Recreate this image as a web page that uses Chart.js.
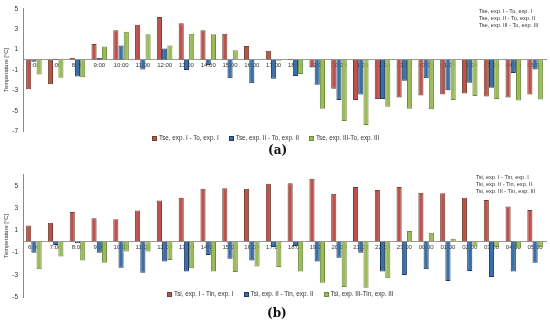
<!DOCTYPE html>
<html>
<head>
<meta charset="utf-8">
<script src="https://cdn.jsdelivr.net/npm/chart.js@4"></script>
<style>
  html, body { margin: 0; padding: 0; background: #fff; }
  body { width: 550px; height: 327px; position: relative; overflow: hidden; font-family: "Liberation Sans", Arial, sans-serif; }
  .box { position: absolute; left: 0; width: 550px; }
  .legend { position: absolute; display: flex; gap: 10px; font-size: 6.3px; color: #333; white-space: nowrap; align-items: center; }
  .legend span.sw { display: inline-block; width: 5px; height: 5px; margin-right: 2px; vertical-align: middle; border: 1px solid; box-sizing: border-box; }
  .side { position: absolute; font-size: 5.6px; line-height: 7.2px; color: #333; white-space: nowrap; }
  .tag { position: absolute; font-family: "DejaVu Serif", "Liberation Serif", serif; font-size: 12px; font-weight: bold; color: #111; }
</style>
</head>
<body>
<div class="box" style="top:0;height:140px"><canvas id="chartA"></canvas></div>
<div class="box" style="top:166px;height:140px"><canvas id="chartB"></canvas></div>
<div class="legend" id="legA" style="left:152px;top:134px"></div>
<div class="legend" id="legB" style="left:167px;top:290px"></div>
<div class="side" id="sideA" style="left:479px;top:8px"></div>
<div class="side" id="sideB" style="left:476px;top:174px"></div>
<div class="tag" style="left:268px;top:143px">(a)</div>
<div class="tag" style="left:267px;top:306px">(b)</div>
<script>
const hours = ["6:00", "7:00", "8:00", "9:00", "10:00", "11:00", "12:00", "13:00", "14:00", "15:00", "16:00", "17:00",
  "18:00", "19:00", "20:00", "21:00", "22:00", "23:00", "00:00", "01:00", "02:00", "03:00", "04:00", "05:00"];

// (a) external surface minus outdoor air
const tseNames = ["Tse, exp. I - To, exp. I", "Tse, exp. II - To, exp. II", "Tse, exp. III-To, exp. III"];
const tseSide = ["Tse, exp. I - To, exp. I", "Tse, exp. II - To, exp. II", "Tse, exp. III - To, exp. III"];
const tseI = [-2.9, -2.4, 0.2, 1.55, 2.9, 3.45, 4.2, 3.6, 2.9, 2.55, 1.35, 0.9, 0.1, -0.75, -2.85, -3.95, -3.85, -3.7, -3.5, -3.4, -3.3, -3.6, -3.7, -3.4];
const tseII = [-0.2, 0.1, -1.65, 0.2, 1.4, -0.95, 1.1, -1.0, -0.5, -1.8, -2.3, -1.85, -1.6, -2.45, -3.95, -3.4, -3.85, -2.05, -1.8, -3.0, -2.25, -2.75, -1.3, -0.95];
const tseIII = [-1.45, -1.75, -1.7, 1.3, 2.75, 2.5, 1.4, 2.55, 2.5, 0.95, 0, -0.1, -1.4, -4.8, -6.0, -6.4, -4.6, -4.8, -4.85, -3.95, -3.55, -3.85, -4.0, -3.9];
const ticksA = [5, 3, 1, -1, -3, -5, -7];

// (b) internal surface minus indoor air
const tsiNames = ["Tsi, exp. I - Tin, exp. I", "Tsi, exp. II - Tin, exp. II", "Tsi, exp. III-Tin, exp. III"];
const tsiSide = ["Tsi, exp. I - Tin, exp. I", "Tsi, exp. II - Tin, exp. II", "Tsi, exp. III - Tin, exp. III"];
const tsiI = [1.45, 1.7, 2.65, 2.1, 2.0, 2.8, 3.7, 3.95, 4.75, 4.8, 4.75, 5.2, 5.25, 5.65, 4.3, 4.9, 4.65, 4.9, 4.4, 4.35, 3.95, 3.75, 3.15, 2.85];
const tsiII = [-1.0, -0.3, -0.15, -1.0, -2.35, -2.8, -1.8, -2.7, -1.2, -1.55, -1.7, -0.5, -0.4, -1.8, -1.45, -1.0, -2.7, -3.0, -2.5, -3.55, -2.65, -3.2, -2.7, -1.9];
const tsiIII = [-2.5, -1.35, -1.7, -1.9, -0.9, -0.9, -1.65, -2.4, -2.7, -2.75, -2.25, -2.3, -2.7, -3.7, -4.1, -4.15, -3.3, 0.95, 0.8, 0.25, -0.45, -0.5, -0.55, -0.5];
const ticksB = [5, 3, 1, -1, -3, -5];

const fills = ["#c0504d", "#3a70a8", "#9bbb59"];
const borders = ["#6b4330", "#22395e", "#6c8a3b"];

function makeChart(id, names, series, ticks, min, max, padTop) {
  const ctx = document.getElementById(id).getContext("2d");
  return new Chart(ctx, {
    type: "bar",
    data: {
      labels: hours,
      datasets: series.map((d, i) => ({
        label: names[i],
        data: d,
        backgroundColor: fills[i],
        borderColor: borders[i],
        borderWidth: 1,
        categoryPercentage: 0.72,
        barPercentage: 0.98,
      })),
    },
    options: {
      responsive: true,
      maintainAspectRatio: false,
      animation: false,
      layout: { padding: { left: 0, right: 4, top: padTop, bottom: 5 } },
      plugins: { legend: { display: false }, tooltip: { enabled: false } },
      scales: {
        x: {
          position: { y: 0 },
          z: 1,
          grid: { display: false, drawTicks: false },
          border: { color: "#9a9a9a", dash: [2, 2] },
          ticks: {
            color: "#333",
            font: { size: 6, family: "Liberation Sans" },
            padding: 2,
            maxRotation: 0,
            autoSkip: false,
          },
        },
        y: {
          min: min,
          max: max,
          grid: { display: false, drawTicks: false },
          border: { color: "#8a8a8a" },
          afterBuildTicks: (s) => { s.ticks = ticks.map((v) => ({ value: v })); },
          afterFit: (s) => { s.width = 23; },
          ticks: { color: "#333", font: { size: 6.5, family: "Liberation Sans" }, padding: 5 },
          title: {
            display: true,
            text: "Temperature [°C]",
            color: "#333",
            font: { size: 5.8, family: "Liberation Sans" },
            padding: { top: 3, bottom: 0 },
          },
        },
      },
    },
  });
}

makeChart("chartA", tseNames, [tseI, tseII, tseIII], ticksA, -7, 5, 5);
makeChart("chartB", tsiNames, [tsiI, tsiII, tsiIII], ticksB, -5, 6, 6);

function fillLegend(id, names) {
  document.getElementById(id).innerHTML = names.map((n, i) =>
    `<div><span class="sw" style="background:${fills[i]};border-color:${borders[i]}"></span>${n}</div>`).join("");
}
fillLegend("legA", tseNames);
fillLegend("legB", tsiNames);
document.getElementById("sideA").innerHTML = tseSide.join("<br>");
document.getElementById("sideB").innerHTML = tsiSide.join("<br>");
</script>
</body>
</html>
